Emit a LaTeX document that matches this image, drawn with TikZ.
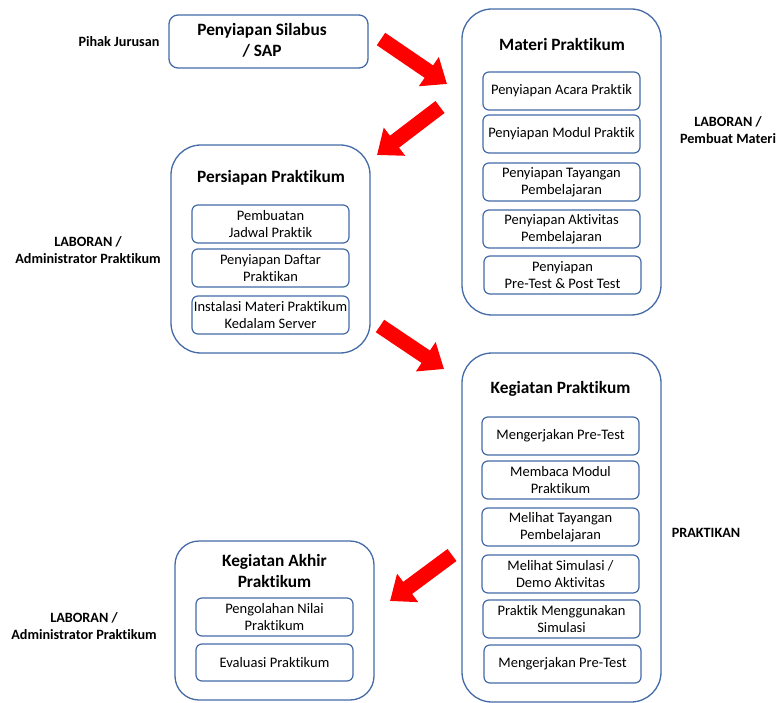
\documentclass[tikz,border=0pt]{standalone}
\usepackage{fontspec}
\setmainfont{Carlito}[Ligatures=NoCommon]
\usetikzlibrary{arrows.meta}
\definecolor{boxblue}{RGB}{68,106,168}

\begin{document}
\begin{tikzpicture}[x=1pt, y=-1pt,
  bigbox/.style={draw=boxblue, line width=1.3pt, rounded corners=30pt, minimum width=199pt, inner sep=0pt},
  midbox/.style={draw=boxblue, line width=1.3pt, rounded corners=9pt, minimum width=199pt, inner sep=0pt},
  subbox/.style={draw=boxblue, line width=1.2pt, rounded corners=6pt, minimum width=157pt, minimum height=38pt, inner sep=1pt, align=center, font=\fontsize{14.5}{17}\selectfont},
  title/.style={font=\fontsize{17.3}{21}\selectfont\bfseries, align=center},
  role/.style={font=\fontsize{14.2}{17}\selectfont\bfseries, align=center},
  blockarrow/.style={red, line width=15pt, -{Triangle[length=22pt, width=34pt]}}]
  \useasboundingbox (0,0) rectangle (776,703);

  % first step
  \node[role] (jurusan) at (119,42) {Pihak Jurusan};
  \node[midbox, minimum height=53pt] (silabus) at (268.5,41.5) {};
  \node[title] (silabustext) at (262,40) {Penyiapan Silabus\\/ SAP};

  % materi
  \node[bigbox, minimum height=306pt] (materi) at (561.5,162) {};
  \node[title] (materititle) at (562,44) {Materi Praktikum};
  \node[subbox] (m1) at (561.5,91) {Penyiapan Acara Praktik};
  \node[subbox] (m2) at (561.5,134) {Penyiapan Modul Praktik};
  \node[subbox] (m3) at (561.5,182) {Penyiapan Tayangan\\Pembelajaran};
  \node[subbox] (m4) at (561.5,229) {Penyiapan Aktivitas\\Pembelajaran};
  \node[subbox] (m5) at (562.5,275) {Penyiapan\\Pre-Test \& Post Test};
  \node[role] (pembuat) at (728,130) {LABORAN /\\Pembuat Materi};

  % persiapan
  \node[bigbox, minimum height=208pt] (persiapan) at (270.5,249) {};
  \node[title] (persiapantitle) at (271,178) {Persiapan Praktikum};
  \node[subbox] (p1) at (270.5,224) {Pembuatan\\Jadwal Praktik};
  \node[subbox] (p2) at (270.5,268) {Penyiapan Daftar\\Praktikan};
  \node[subbox] (p3) at (270.5,315) {Instalasi Materi Praktikum\\Kedalam Server};
  \node[role] (admin1) at (88,250) {LABORAN /\\Administrator Praktikum};

  % kegiatan
  \node[bigbox, minimum height=349pt] (kegiatan) at (561.5,527.5) {};
  \node[title] (kegiatantitle) at (560.5,389) {Kegiatan Praktikum};
  \node[subbox] (k1) at (560.5,436) {Mengerjakan Pre-Test};
  \node[subbox] (k2) at (560.5,480) {Membaca Modul\\Praktikum};
  \node[subbox] (k3) at (560.5,527) {Melihat Tayangan\\Pembelajaran};
  \node[subbox] (k4) at (560.5,574) {Melihat Simulasi /\\Demo Aktivitas};
  \node[subbox] (k5) at (561.5,619) {Praktik Menggunakan\\Simulasi};
  \node[subbox] (k6) at (562.5,664) {Mengerjakan Pre-Test};
  \node[role] (praktikan) at (706,533) {PRAKTIKAN};

  % akhir
  \node[bigbox, rounded corners=24pt, minimum height=159pt] (akhir) at (274.5,620.5) {};
  \node[title] (akhirtitle) at (274.5,571) {Kegiatan Akhir\\Praktikum};
  \node[subbox] (a1) at (274.5,617) {Pengolahan Nilai\\Praktikum};
  \node[subbox, minimum height=37pt] (a2) at (274.5,662.5) {Evaluasi Praktikum};
  \node[role] (admin2) at (84,626) {LABORAN /\\Administrator Praktikum};

  % red arrows
  \coordinate (ar1s) at (381,39);
  \coordinate (ar1e) at (447,84);
  \coordinate (ar2s) at (440,107);
  \coordinate (ar2e) at (377,155);
  \coordinate (ar3s) at (380,326);
  \coordinate (ar3e) at (444,369);
  \coordinate (ar4s) at (452,555);
  \coordinate (ar4e) at (390,601);
  \draw[blockarrow] (ar1s) -- (ar1e);
  \draw[blockarrow] (ar2s) -- (ar2e);
  \draw[blockarrow] (ar3s) -- (ar3e);
  \draw[blockarrow] (ar4s) -- (ar4e);
\end{tikzpicture}
\end{document}
